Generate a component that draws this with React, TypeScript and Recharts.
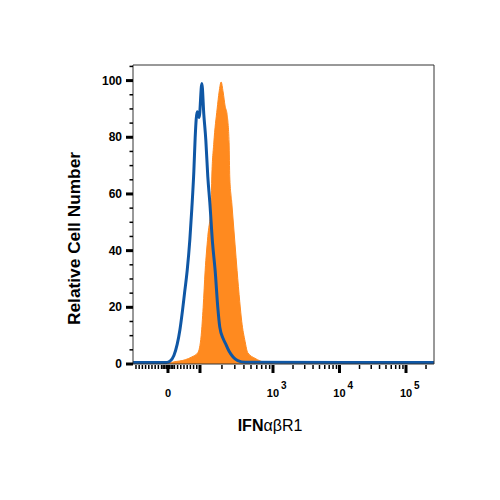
import React from 'react';
import { ComposedChart, Area, Line, XAxis, YAxis, ReferenceLine } from 'recharts';

// Display channel (decade units of the logicle display): 10^3 -> 3, 10^4 -> 4, 10^5 -> 5
const isotypeX = [0.89, 1.38, 1.45, 1.51, 1.56, 1.6, 1.64, 1.67, 1.71, 1.75, 1.78, 1.81, 1.83, 1.86, 1.89, 1.93, 1.96, 1.99, 2.02, 2.05, 2.09, 2.13, 2.17, 2.2, 2.25, 2.29, 2.34, 2.4, 2.47, 2.58, 5.43];
const isotypeY = [0.5, 0.5, 1, 3, 7, 12, 19, 25, 33, 44, 55, 68, 80, 89, 87, 99, 88, 79, 66, 57, 43, 33, 20, 13, 9, 7, 4.5, 2.5, 1.2, 0.6, 0.5];

const stainedX = [0.89, 1.38, 1.5, 1.68, 1.78, 1.87, 1.92, 1.95, 1.98, 2.02, 2.07, 2.08, 2.11, 2.16, 2.19, 2.22, 2.25, 2.28, 2.31, 2.34, 2.35, 2.38, 2.43, 2.46, 2.5, 2.53, 2.58, 2.62, 2.73, 2.88, 3.03, 5.43];
const stainedY = [0, 0, 0.7, 1.5, 2.5, 4, 10, 20, 33, 45, 57, 66, 78, 90, 96, 99.5, 96, 91, 88, 78, 66, 57, 42, 33, 22, 15, 8, 4, 2, 0.5, 0, 0];

// nominal axis tick values
const linearTickValues = [-100, -90, -80, -70, -60, -50, -40, -30, -20, -15, -10, -5, 0, 5, 10, 15, 20, 30, 40, 50, 60, 70, 80, 90, 100];
const logTickValues = [200, 300, 400, 500, 600, 700, 800, 900, 1000, 2000, 3000, 4000, 5000, 6000, 7000, 8000, 9000, 10000, 20000, 30000, 40000, 50000, 60000, 70000, 80000, 90000, 100000, 200000];
const majorTickValues = [0, 100, 1000, 10000, 100000];
const xTickLabels: Record<number, { base: string; sup?: string }> = {
  0: { base: '0' },
  1000: { base: '10', sup: '3' },
  10000: { base: '10', sup: '4' },
  100000: { base: '10', sup: '5' },
};

const yTickValues = [0, 5, 10, 15, 20, 25, 30, 35, 40, 45, 50, 55, 60, 65, 70, 75, 80, 85, 90, 95, 100, 105];
const yMajorTicks = [0, 20, 40, 60, 80, 100];

const X_MIN = 0.895;
const X_MAX = 5.421;
const Y_MAX = 105.5;

const BLUE = '#0f57a5';
const ORANGE = '#ff8a1f';
const FONT = '"Liberation Sans", Arial, Helvetica, sans-serif';

// logicle-like display transform for tick placement
function toChannel(v: number): number {
  if (v <= 100) return 1.421 + v * 0.004812;
  if (v <= 1000) return 1.902 + 1.098 * Math.log10(v / 100);
  return Math.log10(v);
}

const xTicks = [...linearTickValues, ...logTickValues].map((v) => ({
  v,
  u: toChannel(v),
  major: majorTickValues.includes(v),
  label: xTickLabels[v],
}));

const isotypeData = isotypeX.map((x, i) => ({ x, y: isotypeY[i] }));
const stainedData = stainedX.map((x, i) => ({ x, y: stainedY[i] }));

const XTick = (props: any) => {
  const { x, y, payload } = props;
  const t = xTicks.find((k) => Math.abs(k.u - payload.value) < 1e-9);
  if (!t) return null;
  const len = t.major ? 8 : 4;
  const w = t.major ? 3 : 1.5;
  return (
    <g>
      <line x1={x} x2={x} y1={y + 1} y2={y + 1 + len} stroke="#000" strokeWidth={w} />
      {t.label && (
        <g fontFamily={FONT} fontWeight="bold" fill="#000">
          <text x={x} y={y + 33} textAnchor="middle" fontSize={11}>
            {t.label.base}
          </text>
          {t.label.sup && (
            <text x={x + 8} y={y + 25} textAnchor="start" fontSize={10}>
              {t.label.sup}
            </text>
          )}
        </g>
      )}
    </g>
  );
};

const YTick = (props: any) => {
  const { x, y, payload } = props;
  const major = yMajorTicks.includes(payload.value);
  return (
    <g>
      <line x1={x - (major ? 7 : 3.5)} x2={x} y1={y} y2={y} stroke="#000" strokeWidth={major ? 3 : 1.5} />
      {major && (
        <text x={x - 11} y={y + 4} textAnchor="end" fontSize={12} fontWeight="bold" fontFamily={FONT} fill="#000">
          {payload.value}
        </text>
      )}
    </g>
  );
};

const YLabel = () => (
  <text
    transform="translate(80,238.5) rotate(-90)"
    textAnchor="middle"
    fontSize={17}
    fontWeight="bold"
    fontFamily={FONT}
    fill="#000"
    textLength={173}
    lengthAdjust="spacingAndGlyphs"
  >
    Relative Cell Number
  </text>
);

const XLabel = () => (
  <text x={270} y={431} textAnchor="middle" fontSize={16} fontFamily={FONT} fill="#000">
    <tspan fontWeight="bold">IFN</tspan>
    <tspan>αβR1</tspan>
  </text>
);

export default function App() {
  return (
    <div style={{ position: 'absolute', left: 0, top: 0, width: 500, height: 500, background: '#fff' }}>
      <ComposedChart width={500} height={500} margin={{ top: 65, right: 66, bottom: 96, left: 73 }}>
        <XAxis
          type="number"
          dataKey="x"
          domain={[X_MIN, X_MAX]}
          allowDataOverflow
          ticks={xTicks.map((t) => t.u)}
          interval={0}
          tickSize={0}
          tickMargin={0}
          tickLine={false}
          tick={<XTick />}
          height={40}
          axisLine={{ stroke: '#333', strokeWidth: 1 }}
          label={{ value: 'IFNαβR1', content: () => <XLabel /> }}
        />
        <YAxis
          type="number"
          domain={[0, Y_MAX]}
          allowDataOverflow
          ticks={yTickValues}
          interval={0}
          tickSize={0}
          tickMargin={0}
          tickLine={false}
          tick={<YTick />}
          width={60}
          axisLine={{ stroke: '#333', strokeWidth: 1 }}
          label={{ value: 'Relative Cell Number', content: () => <YLabel /> }}
        />
        <Area
          data={stainedData}
          dataKey="y"
          type="monotone"
          fill={ORANGE}
          fillOpacity={1}
          stroke={ORANGE}
          strokeWidth={1}
          isAnimationActive={false}
          dot={false}
          activeDot={false}
        />
        <Line
          data={isotypeData}
          dataKey="y"
          type="monotone"
          stroke={BLUE}
          strokeWidth={3}
          dot={false}
          activeDot={false}
          isAnimationActive={false}
        />
        <ReferenceLine y={Y_MAX} stroke="#333" strokeWidth={1} />
        <ReferenceLine x={X_MAX} stroke="#333" strokeWidth={1} />
      </ComposedChart>
    </div>
  );
}
